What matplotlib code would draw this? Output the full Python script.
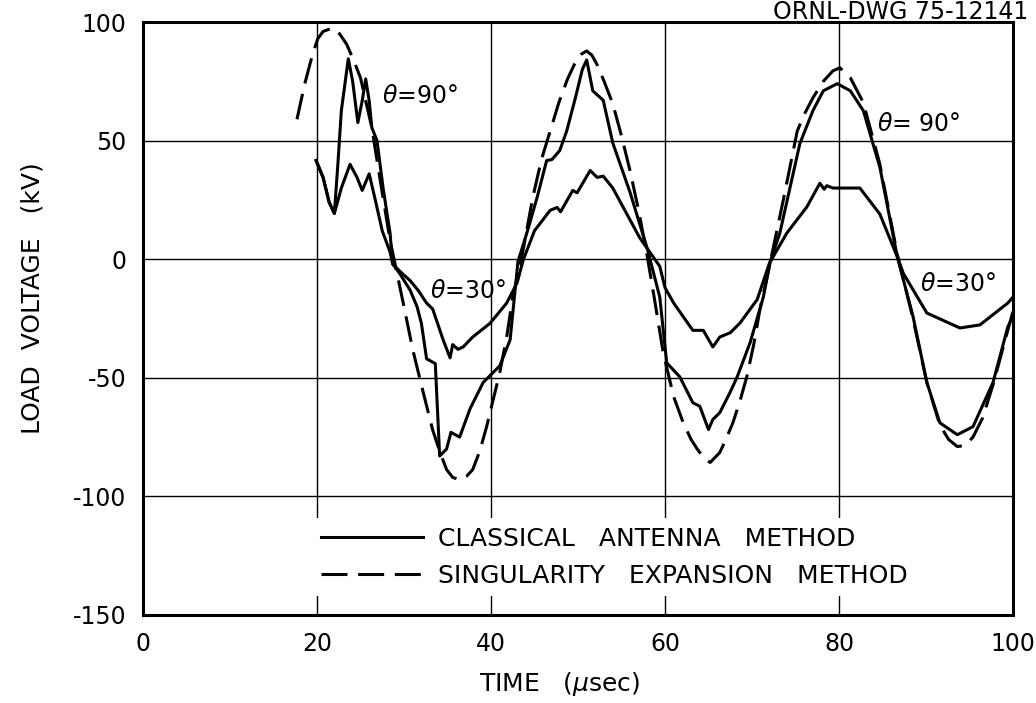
import matplotlib
matplotlib.use("Agg")
import matplotlib.pyplot as plt
from matplotlib.lines import Line2D

plt.rcParams["font.family"] = ["DejaVu Sans"]
plt.rcParams["axes.unicode_minus"] = False

# Classical antenna method, theta = 90 deg
t_cam90 = [19.9, 20.7, 21.4, 22.0, 22.4, 22.8, 23.6, 24.1, 24.7, 25.2, 25.6, 26.0,
           26.3, 26.9, 27.6, 28.4, 28.7, 29.5, 30.7, 31.5, 32.0, 32.6, 33.6, 34.1,
           34.9, 35.4, 36.4, 37.6, 39.1, 41.0, 42.2, 43.1, 44.2, 45.3, 46.4, 47.0,
           47.9, 48.7, 49.7, 50.5, 51.0, 51.7, 52.9, 54.0, 56.0, 58.0, 59.4, 60.2,
           61.7, 63.2, 64.0, 65.0, 65.5, 66.3, 67.5, 68.3, 69.8, 71.3, 72.1, 73.2,
           75.5, 77.0, 78.2, 79.8, 81.3, 82.8, 84.7, 86.7, 88.5, 90.1, 91.6, 93.6,
           95.4, 97.7, 99.4, 100.0]
v_cam90 = [41.6, 34.5, 24, 19.3, 40, 62.6, 84.5, 75, 57.6, 66.8, 76, 66.8,
           55.5, 50, 30, 11, -2, -6, -13, -20, -27, -42, -44, -83,
           -80, -73, -75, -63, -52, -45, -34, -1, 12, 26, 41.6, 42,
           45.8, 54, 68, 80, 84, 71, 67, 49, 28, 4, -16, -43.7,
           -49.6, -60.5, -62, -71.8, -67.6, -64.7, -56, -49.6, -35, -16, -1, 11,
           48.7, 62.6, 71, 74, 71, 62.6, 38.7, 1, -24, -52, -69, -74,
           -70.6, -52, -28.6, -24]

# Classical antenna method, theta = 30 deg
t_cam30 = [19.9, 20.7, 21.4, 22.0, 22.8, 23.8, 24.6, 25.2, 26.0, 26.7, 27.5, 28.4,
           28.7, 29.5, 30.7, 31.6, 32.6, 33.3, 34.5, 35.3, 35.6, 36.2, 36.8, 37.9,
           39.9, 41.8, 43.0, 43.7, 45.0, 46.8, 47.6, 48.0, 49.4, 49.9, 51.4, 52.2,
           52.9, 54.0, 57.1, 59.4, 60.0, 61.0, 63.2, 64.4, 65.5, 66.3, 67.5, 68.6,
           70.6, 72.0, 74.0, 76.3, 77.8, 78.3, 78.6, 79.3, 82.4, 84.7, 86.7, 87.4,
           90.1, 93.9, 96.2, 99.4, 100.0]
v_cam30 = [41.6, 34.5, 24, 19.3, 30, 40, 34.5, 29, 36, 25, 12, 3,
           -2, -5, -9, -13, -18.5, -21, -34, -41.6, -36, -38, -37, -32.8,
           -27, -18.5, -10, -0.4, 12, 20.6, 21.8, 20, 29, 28, 37.4, 34.5,
           35, 30, 9, -3, -12, -18.5, -30, -30, -37, -32.8, -31, -27,
           -17, -1.7, 11, 22, 32, 29.5, 31, 30, 30, 19, 1, -6,
           -22.7, -29, -27.7, -18.5, -16]

# Singularity expansion method
t_sem = [17.7, 18.6, 19.5, 20.1, 20.7, 21.8, 22.6, 23.4, 24.2, 25.0, 26.3, 27.5,
         28.4, 29.2, 30.0, 31.0, 32.2, 33.3, 34.2, 34.9, 35.6, 36.4, 37.2, 37.9,
         38.7, 39.5, 40.2, 41.0, 41.8, 42.5, 43.5, 44.8, 45.8, 46.8, 47.8, 48.8,
         49.7, 50.4, 51.0, 51.6, 52.2, 53.0, 54.0, 55.0, 56.0, 57.0, 57.9, 58.8,
         59.8, 61.0, 62.1, 63.0, 63.7, 64.5, 65.2, 66.3, 67.0, 67.8, 68.6, 69.4,
         70.2, 70.9, 72.0, 73.6, 75.2, 76.0, 77.0, 78.2, 79.3, 80.1, 81.3, 82.8,
         84.7, 86.7, 88.5, 90.1, 91.6, 92.6, 93.6, 94.5, 95.4, 96.5, 97.7, 99.4,
         100.0]
v_sem = [59, 74, 86.5, 93, 96, 97.5, 95, 90.7, 84, 76.5, 55.5, 28,
         8, -6, -20, -38, -56, -72, -82, -88.7, -92, -93, -91.5, -88.7,
         -81, -70.6, -60, -48, -33, -16, 0, 26, 42, 54, 66, 76,
         83, 86.5, 87.8, 86, 82, 75, 65.5, 52, 37, 20, 2.5, -17,
         -39.5, -58, -69, -76, -80, -84, -85.7, -81.5, -76, -69, -60, -49.6,
         -36, -21.4, -3, 25, 54, 61, 68, 75, 79.4, 80.7, 76.5, 66,
         40, 2, -25, -52, -70, -76, -79, -78.5, -75, -67, -53, -30,
         -22]

x_ticks = [0, 20, 40, 60, 80, 100]
y_ticks = [-150, -100, -50, 0, 50, 100]
legend_labels = ["CLASSICAL   ANTENNA   METHOD", "SINGULARITY   EXPANSION   METHOD"]

fig = plt.figure(figsize=(10.36, 7.03), dpi=100)
ax = fig.add_axes([0.138, 0.1252, 0.8398, 0.8435])

lw = 2.2
sem_dashes = (8.5, 3.5)
ax.plot(t_cam90, v_cam90, color="black", lw=lw, solid_joinstyle="round")
ax.plot(t_cam30, v_cam30, color="black", lw=lw, solid_joinstyle="round")
ax.plot(t_sem, v_sem, color="black", lw=lw, dashes=sem_dashes)

ax.set_xlim(0, 100)
ax.set_ylim(-150, 100)
ax.set_xticks(x_ticks)
ax.set_yticks(y_ticks)
ax.tick_params(length=0, labelsize=17, pad=12)
ax.grid(True, color="black", lw=1.0)
for sp in ax.spines.values():
    sp.set_linewidth(2.2)

ax.set_xlabel("TIME   ($\\mu$sec)", fontsize=18)
ax.xaxis.set_label_coords(0.479, -0.092)
ax.set_ylabel("LOAD  VOLTAGE   (kV)", fontsize=18)
ax.yaxis.set_label_coords(-0.113, 0.535)

ax.text(31.8, 69, "$\\theta$=90°", fontsize=17, ha="center", va="center")
ax.text(84.4, 57, "$\\theta$= 90°", fontsize=17, ha="left", va="center")
ax.text(33.0, -13.5, "$\\theta$=30°", fontsize=17, ha="left", va="center")
ax.text(89.3, -10.5, "$\\theta$=30°", fontsize=17, ha="left", va="center")

handles = [Line2D([], [], color="black", lw=lw),
           Line2D([], [], color="black", lw=lw, dashes=sem_dashes)]
leg = ax.legend(handles, legend_labels, loc="upper left",
                bbox_to_anchor=(0.194, 0.163), borderaxespad=0, fontsize=18,
                handlelength=4.1, handletextpad=0.6, labelspacing=0.5,
                borderpad=0.35, frameon=True, fancybox=False)
leg.get_frame().set_facecolor("white")
leg.get_frame().set_edgecolor("none")
leg.get_frame().set_alpha(1)

fig.text(0.993, 1.0, "ORNL-DWG 75-12141", fontsize=17, ha="right", va="top")

fig.savefig("out.png", dpi=100)
